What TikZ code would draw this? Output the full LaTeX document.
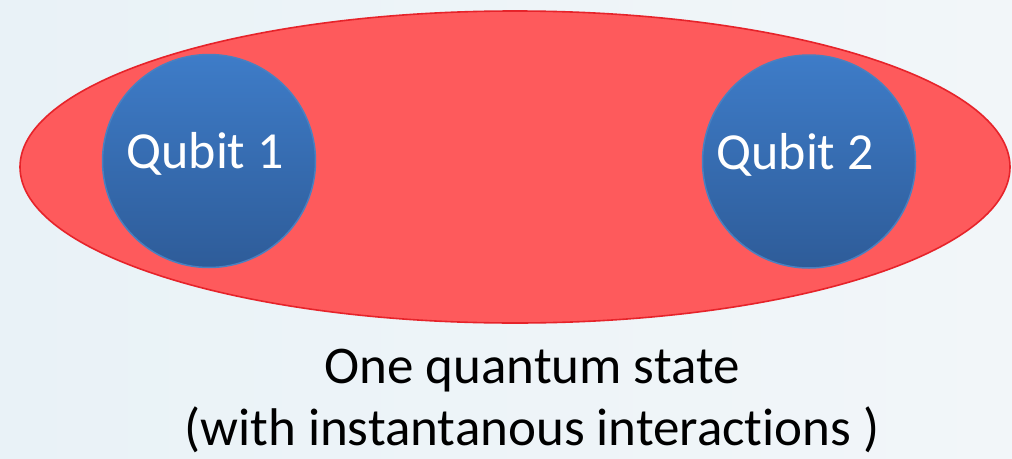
\documentclass[tikz,border=0pt]{standalone}
\usepackage{fontspec}
\setmainfont[Ligatures={NoCommon}]{Carlito}
\usetikzlibrary{shapes.geometric}
\definecolor{bgL}{RGB}{233,242,247}
\definecolor{bgR}{RGB}{242,246,249}
\definecolor{ellfill}{RGB}{254,90,92}
\definecolor{elldraw}{RGB}{230,35,42}
\definecolor{qtop}{RGB}{62,124,200}
\definecolor{qbot}{RGB}{46,92,153}
\definecolor{qdraw}{RGB}{74,128,192}
\tikzset{
  qubitball/.style={circle, minimum size=213pt, inner sep=0pt, draw=qdraw, line width=1.5pt,
    top color=qtop, bottom color=qbot},
  qubittext/.style={anchor=base, text=white, inner sep=0pt, font=\fontsize{52}{60}\selectfont},
  captiontext/.style={anchor=base, text=black, inner sep=0pt, font=\fontsize{53}{60}\selectfont},
  stateoval/.style={ellipse, minimum width=990pt, minimum height=312pt, inner sep=0pt,
    fill=ellfill, draw=elldraw, line width=1.6pt}
}
\begin{document}
\begin{tikzpicture}[x=1pt,y=-1pt]
  \shade[left color=bgL, right color=bgR] (0,0) rectangle (1012,458);
  \useasboundingbox (0,0) rectangle (1012,458);
  \node[stateoval] (state) at (515,167) {};
  \node[qubitball] (q1) at (209,161) {};
  \node[qubitball] (q2) at (809,161.5) {};
  \node[qubittext] (t1) at (205,168) {Qubit 1};
  \node[qubittext] (t2) at (795,169) {Qubit 2};
  \node[captiontext] (cap1) at (532,383) {One quantum state};
  \node[captiontext] (cap2) at (532,445) {(with instantanous interactions )};
\end{tikzpicture}
\end{document}
